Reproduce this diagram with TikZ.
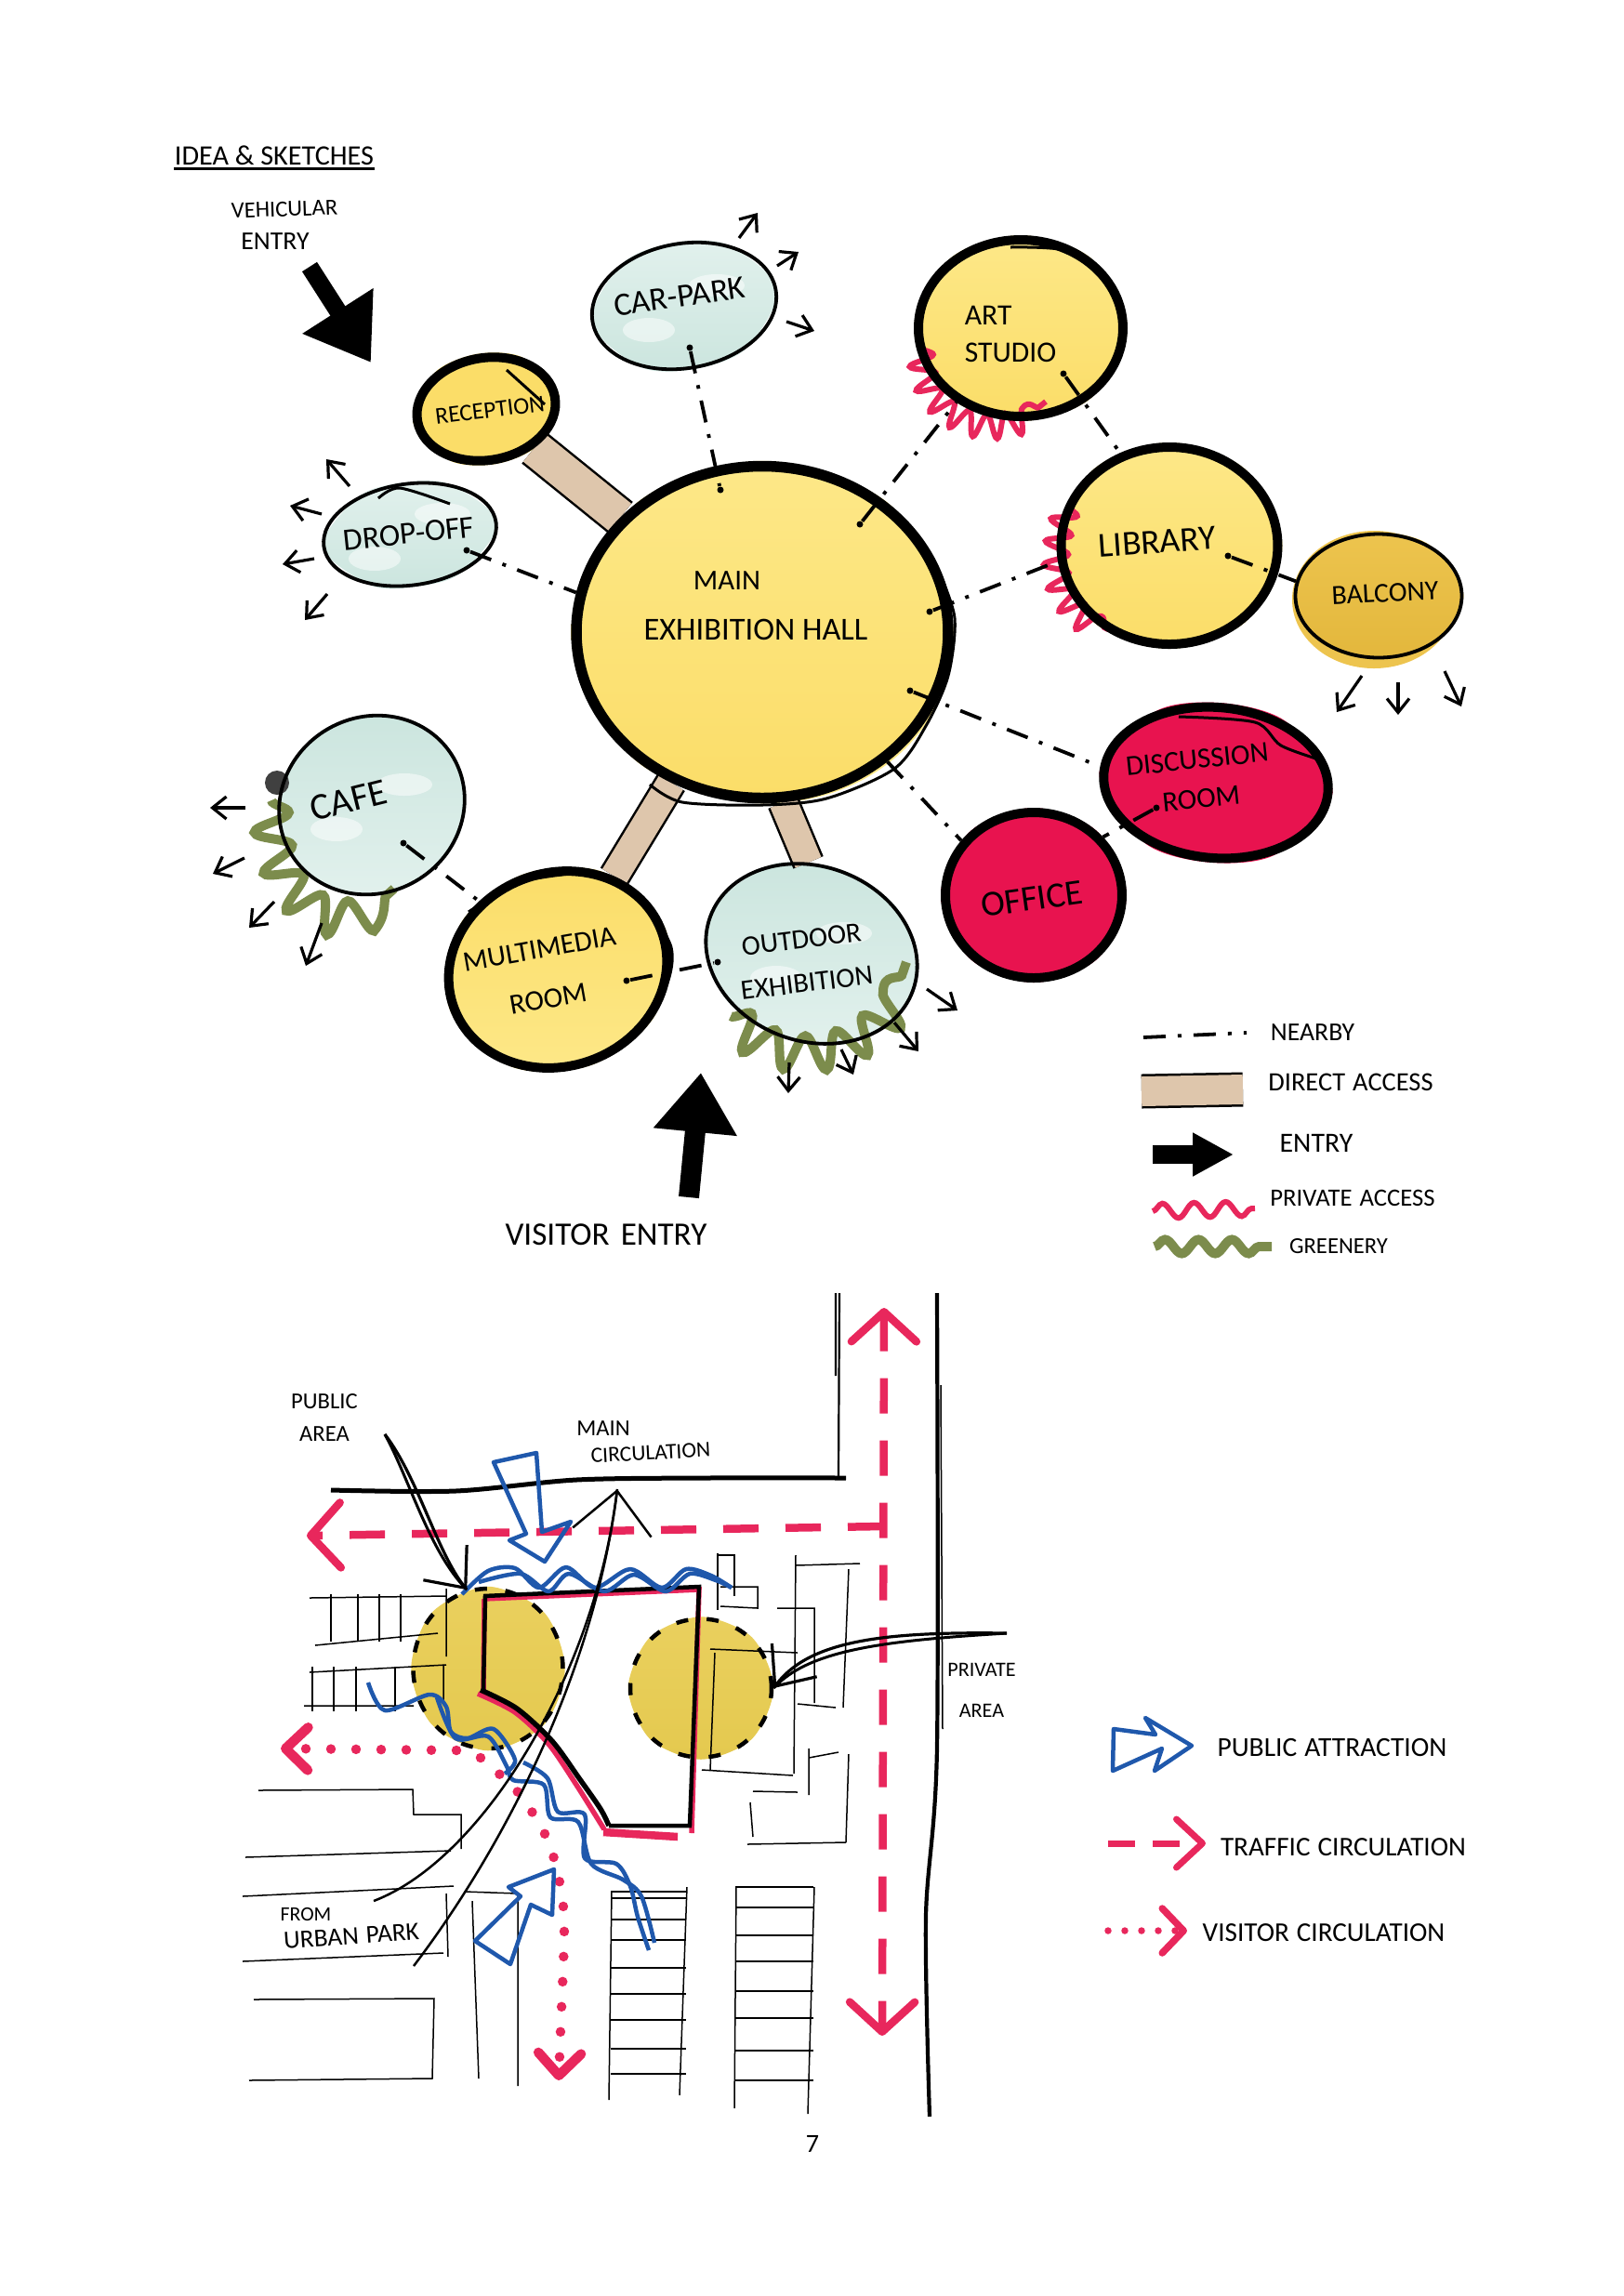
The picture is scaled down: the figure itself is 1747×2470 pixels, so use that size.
\documentclass[tikz,border=0pt]{standalone}
\usepackage{fontspec}
\setmainfont{Carlito}
\usetikzlibrary{arrows.meta,positioning,backgrounds,shapes.geometric,decorations.pathmorphing}
\definecolor{hallCol}{HTML}{FDE888}
\definecolor{hallDeep}{HTML}{FBDD68}
\definecolor{paleCol}{HTML}{E2F1ED}
\definecolor{paleDeep}{HTML}{CBE5DE}
\definecolor{goldCol}{HTML}{EDC44E}
\definecolor{goldDeep}{HTML}{E3B73C}
\definecolor{crimCol}{HTML}{E8134F}
\definecolor{accessCol}{HTML}{DEC6AC}
\definecolor{pinkEdge}{HTML}{E8275C}
\definecolor{oliveEdge}{HTML}{7C8C4C}
\definecolor{blueEdge}{HTML}{1F58AC}
\definecolor{blobCol}{HTML}{EAD05E}
\definecolor{blobDeep}{HTML}{E4C94F}
\tikzset{
  ring/.style n args={2}{ellipse, draw, line width=1mm, inner sep=0pt,
        minimum width=#1mm, minimum height=#2mm},
  penring/.style n args={2}{ellipse, draw, line width=.38mm, inner sep=0pt,
        minimum width=#1mm, minimum height=#2mm},
  blob/.style n args={2}{ellipse, draw, line width=.45mm, inner sep=0pt,
        dash pattern=on 1.3mm off 2mm, minimum width=#1mm, minimum height=#2mm},
  hand/.style n args={2}{font=\fontsize{#1}{#2}\selectfont, inner sep=0pt, align=center},
  spot/.style={circle, fill=black, inner sep=0pt, minimum size=.7mm},
  nearby/.style={line width=.38mm, dash pattern=on 2.4mm off 1.3mm on .4mm off 1.3mm},
  direct/.style={draw=black, line width=.25mm, double=accessCol, double distance=#1mm},
  outarrow/.style={line width=.32mm, -{Straight Barb[length=1.5mm,width=2.4mm]}},
  entryarrow/.style n args={3}{line width=#1mm, -{Triangle[length=#2mm,width=#3mm]}},
  sketch/.style={line width=.3mm},
  fineline/.style={line width=.15mm},
  privwig/.style={draw=pinkEdge, line width=.6mm, decorate,
        decoration={snake, amplitude=1.3mm, segment length=2.3mm}},
  greenwig/.style={draw=oliveEdge, line width=1mm, decorate,
        decoration={snake, amplitude=1.9mm, segment length=4mm}},
  traffic/.style={draw=pinkEdge, line width=.85mm, dash pattern=on 3.8mm off 2.9mm,
        >={Straight Barb[length=3.2mm,width=7mm,round]}},
  visitor/.style={draw=pinkEdge, line width=1.05mm, line cap=round, dash pattern=on 0pt off 2.7mm,
        >={Straight Barb[length=2.4mm,width=4.6mm,round]}},
  leader/.style={line width=.32mm, -{Straight Barb[length=3.5mm,width=6mm]}},
  bluepen/.style={draw=blueEdge, line width=.45mm, line join=round},
  plotline/.style={draw=pinkEdge, line width=.55mm},
  wallline/.style={line width=.45mm},
}
\begin{document}
\begin{tikzpicture}[x=0.1mm,y=-0.1mm]
  \useasboundingbox (0,0) rectangle (1747,2470);
  % --- title ---
  \node[hand={8.6}{11}] (title) at (295,167) {IDEA \& SKETCHES};
  \draw[line width=.25mm] ([yshift=-.45mm]title.base west) -- ([yshift=-.45mm]title.base east);
  % --- rooms ---
  \node[ring={40}{35.7}, line width=1.15mm] (hall) at (820,680) {};
  \node[ring={15}{11}, rotate=10] (reception) at (523,440) {};
  \node[penring={20}{13.4}, rotate=10] (carpark) at (736,329) {};
  \node[penring={18.7}{10.9}, rotate=8] (dropoff) at (441,575) {};
  \node[ring={22}{19}] (art) at (1098,353) {};
  \node[ring={23.3}{21.2}] (library) at (1258,587) {};
  \node[penring={17.9}{13.3}] (balcony) at (1483,641) {};
  \node[ring={24.2}{16.2}, rotate=-5] (discussion) at (1308,842) {};
  \node[ring={19}{17.8}] (office) at (1112,963) {};
  \node[penring={23.2}{18.8}, rotate=-20] (outdoor) at (873,1026) {};
  \node[ring={23.8}{20.8}, rotate=20] (multimedia) at (600,1043) {};
  \node[penring={20.3}{18.9}, rotate=30] (cafe) at (400,866) {};
  % room labels
  \node[hand={7.3}{9}, rotate=7] (recLbl) at (527,441) {RECEPTION};
  \node[hand={10}{12}, rotate=8] (carLbl) at (731,319) {CAR-PARK};
  \node[hand={9.6}{12}, rotate=6] (dropLbl) at (440,574) {DROP-OFF};
  \node[hand={8.8}{10}] (hallTop) at (782,625) {MAIN};
  \node[hand={9.8}{12}] (hallBot) at (813,677) {EXHIBITION HALL};
  \node[hand={9}{11.4}, align=left] (artLbl) at (1087,359) {ART\\STUDIO};
  \node[hand={10.7}{12}, rotate=4] (libLbl) at (1245,583) {LIBRARY};
  \node[hand={8.5}{10}, rotate=3] (balLbl) at (1490,638) {BALCONY};
  \node[hand={8.8}{12}, rotate=6] (disLbl) at (1290,838) {DISCUSSION\\ROOM};
  \node[hand={11}{12}, rotate=8] (offLbl) at (1110,967) {OFFICE};
  \node[hand={8.6}{13.4}, rotate=7] (outLbl) at (865,1034) {OUTDOOR\\EXHIBITION};
  \node[hand={8.8}{15.5}, rotate=10] (mulLbl) at (585,1048) {MULTIMEDIA\\ROOM};
  \node[hand={11.5}{13}, rotate=14] (cafLbl) at (375,861) {CAFE};
  % entry labels
  \node[hand={7}{9}, rotate=2] (vehTop) at (306,225) {VEHICULAR};
  \node[hand={7.9}{9}] (vehBot) at (296,260) {ENTRY};
  \node[hand={10}{12}] (visLbl) at (652,1328) {VISITOR\hspace{1.2mm}ENTRY};
  \coordinate (vehTail) at (333,287);
  \coordinate (vehTip) at (399,390);
  \coordinate (visTail) at (741,1288);
  \coordinate (visTip) at (754,1154);
  \draw[entryarrow={1.9}{6.6}{8.6}] (vehTail) -- (vehTip);
  \draw[entryarrow={2.2}{6.4}{8.6}] (visTail) -- (visTip);
  % dots the nearby lines run from
  \node[spot] (carSpot) at (742,374) {};
  \node[spot] (hallSpotN) at (775,527) {};
  \node[spot] (hallSpotNE) at (925,564) {};
  \node[spot] (hallSpotE) at (1000,658) {};
  \node[spot] (hallSpotSE) at (979,743) {};
  \node[spot] (dropSpot) at (502,592) {};
  \node[spot] (artSpot) at (1144,402) {};
  \node[spot] (libSpot) at (1321,598) {};
  \node[spot] (disSpot) at (1244,869) {};
  \node[spot] (cafSpot) at (434,907) {};
  \node[spot] (mulSpot) at (674,1055) {};
  \node[spot] (outSpot) at (772,1035) {};
  % nearby edges
  \draw[nearby] (carSpot) -- (hallSpotN);
  \draw[nearby] (dropSpot) -- (hall.168);
  \draw[nearby] (hallSpotNE) -- (art.-131);
  \draw[nearby] (artSpot) -- (library.118);
  \draw[nearby] (hallSpotE) -- (library.188);
  \draw[nearby] (libSpot) -- (balcony.170);
  \draw[nearby] (hallSpotSE) -- (discussion.177);
  \draw[nearby] (hall.-46) -- (office.143);
  \draw[nearby] (disSpot) -- (office.40);
  \draw[nearby] (cafSpot) -- (multimedia.119);
  \draw[nearby] (mulSpot) -- (outSpot);
  % spill arrows
  \foreach \r/\a/\b/\c/\d in {carpark/59/-73/20/-27, carpark/100/-43/23/-15, carpark/110/17/30/10,
      dropoff/-65/-52/-25/-29, dropoff/-95/-22/-34/-9, dropoff/-103/26/-34/6, dropoff/-89/64/-24/28,
      balcony/-18/86/-27/39, balcony/21/93/0/35, balcony/71/81/18/38,
      cafe/-136/3/-38/0, cafe/-137/57/-34/17, cafe/-105/104/-27/28, cafe/-54/127/-17/46,
      outdoor/-24/117/-1/33, outdoor/32/103/13/27, outdoor/89/74/26/31, outdoor/124/38/33/23}
    \draw[outarrow] (\r) ++(\a,\b) -- ++(\c,\d);
  % second pen strokes
  \draw[sketch] plot[smooth] coordinates {(1010,615) (1027,665) (1020,727) (996,781) (962,827) (889,859) (820,866) (734,863) (699,844)};
  \draw[sketch] plot[smooth] coordinates {(1087,266) (1149,270) (1194,302)};
  \draw[sketch] plot[smooth] coordinates {(989,341) (1006,303) (1040,275)};
  \draw[sketch] plot[smooth] coordinates {(694,969) (722,1019) (717,1060) (688,1106)};
  \draw[sketch] plot[smooth] coordinates {(504,981) (556,950) (613,940)};
  \draw[sketch] (545,398) -- (586,435);
  \draw[sketch] plot[smooth] coordinates {(407,536) (430,525) (484,542)};
  \draw[sketch] plot[smooth] coordinates {(1268,771) (1350,777) (1378,802) (1422,818)};
  % --- legend, top ---
  \node[hand={7.9}{9}] (lgNear) at (1412,1111) {NEARBY};
  \node[hand={8.1}{9}] (lgDirect) at (1453,1164) {DIRECT\hspace{.8mm}ACCESS};
  \node[hand={8.5}{9}] (lgEntry) at (1416,1230) {ENTRY};
  \node[hand={7.6}{9}] (lgPriv) at (1455,1289) {PRIVATE\hspace{.8mm}ACCESS};
  \node[hand={7}{9}] (lgGreen) at (1440,1341) {GREENERY};
  \draw[nearby] (lgNear) ++(-182,5) -- ++(111,-5);
  \draw[direct=3.2] (lgDirect) ++(-225,10) -- ++(109,-2);
  \draw[entryarrow={2}{4.4}{4.4}] (lgEntry) ++(-176,12) -- ++(87,0);
  \draw[privwig, decoration={amplitude=.8mm, segment length=3.4mm}] (lgPriv) ++(-215,14) -- ++(110,-3);
  \draw[greenwig, decoration={amplitude=.75mm, segment length=3.6mm}] (lgGreen) ++(-198,0) -- ++(126,0);
  % --- site plan ---
  \node[blob={16.1}{17.2}] (pubArea) at (525,1795) {};
  \node[blob={15.2}{14.9}] (privArea) at (754,1816) {};
  % blocks round the site
  \draw[fineline] (333,1719) -- (480,1717) (339,1770) -- (471,1757) (480,1709) -- (480,1782);
  \foreach \x in {356,385,408,431} \draw[fineline] (\x,1715) -- (\x,1766);
  \draw[fineline] (333,1799) -- (480,1791) (327,1835) -- (445,1835) (477,1791) -- (477,1832);
  \foreach \x in {336,359,383,425} \draw[fineline] (\x,1793) -- (\x,1841);
  \draw[fineline] (772,1671) -- (772,1732) (772,1673) -- (790,1673) -- (790,1717);
  \draw[fineline] (775,1707) -- (815,1707) -- (815,1730) -- (775,1728);
  \draw[fineline] (856,1684) -- (925,1682) (856,1673) -- (854,1908) (913,1688) -- (907,1837);
  \draw[fineline] (836,1730) -- (876,1730) -- (876,1832) (764,1774) -- (858,1778);
  \draw[fineline] (769,1778) -- (764,1904) (755,1904) -- (853,1910) (858,1833) -- (899,1837);
  \draw[fineline] (870,1891) -- (902,1885) (870,1881) -- (870,1931) (913,1887) -- (910,1982);
  \draw[fineline] (810,1927) -- (858,1928) (807,1939) -- (810,1976) (804,1984) -- (910,1982);
  \draw[fineline] (278,1926) -- (444,1925) -- (445,1952) -- (496,1952) -- (496,1989);
  \draw[fineline] (264,1998) -- (485,1991) (261,2040) -- (488,2029) (480,2037) -- (482,2105);
  \draw[fineline] (261,2110) -- (477,2101) (273,2151) -- (467,2150) -- (465,2236) -- (268,2238);
  \draw[fineline] (500,2035) -- (557,2037) (508,2045) -- (515,2236) (557,2039) -- (557,2244);
  \draw[fineline] (658,2035) -- (655,2259) (739,2030) -- (731,2254);
  \foreach \y in {2035,2042,2065,2087,2117,2145,2173,2204,2231} \draw[fineline] (657,\y) -- (738,\y);
  \draw[fineline] (792,2030) -- (790,2268) (876,2030) -- (869,2274);
  \foreach \y in {2030,2052,2082,2110,2142,2171,2206,2238} \draw[fineline] (791,\y) -- (875,\y);
  % road edges
  \draw[line width=.42mm] plot[smooth] coordinates {(1008,1391) (1008,1880) (996,2062) (1000,2277)};
  \draw[fineline] (1012,1490) -- (1014,1860);
  \draw[fineline, line width=.22mm] (903,1391) -- (902,1590) (899,1391) -- (899,1480);
  \draw[line width=.5mm] plot[smooth] coordinates {(356,1603) (490,1604) (620,1592) (760,1590) (910,1590)};
  % traffic circulation
  \coordinate (roadN) at (951,1407);
  \coordinate (roadS) at (949,2190);
  \coordinate (roadJ) at (950,1642);
  \coordinate (roadW) at (330,1652);
  \draw[traffic, <->] (roadN) -- (roadS);
  \draw[traffic, ->] (roadJ) -- (roadW);
  % building
  \draw[plotline] (520,1720) -- (752,1710) -- (744,1972) (521,1720) -- (520,1822);
  \draw[plotline] plot[smooth] coordinates {(514,1822) (554,1842) (590,1876) (620,1920) (650,1968)};
  \draw[line width=.85mm, draw=pinkEdge] (649,1971) -- (729,1976);
  \draw[wallline] (520,1717) -- (752,1707) -- (742,1964) -- (655,1964);
  \draw[wallline] (522,1717) -- (520,1818);
  \draw[wallline, line width=.55mm] plot[smooth] coordinates {(517,1818) (556,1838) (594,1873) (623,1913) (646,1946) (655,1964)};
  % visitor circulation
  \coordinate (vJoin) at (491,1883);
  \coordinate (vBend) at (517,1891);
  \coordinate (vLeft) at (302,1881);
  \coordinate (vDown) at (601,2238);
  \draw[visitor, ->] (vJoin) -- (vLeft);
  \draw[visitor, ->] plot[smooth] coordinates {(vBend) (558,1929) (589,1979) (603,2030) (607,2077) (603,2185) (vDown)};
  % public attraction
  \draw[bluepen] plot[smooth] coordinates {(497,1715) (525,1690) (554,1687) (580,1708) (609,1686) (640,1708) (678,1688) (712,1708) (738,1688) (765,1695) (787,1708)};
  \draw[bluepen] plot[smooth] coordinates {(515,1702) (560,1693) (590,1712) (612,1693) (650,1712) (682,1694) (716,1712) (742,1693) (770,1700) (787,1708)};
  \draw[bluepen] plot[smooth] coordinates {(396,1810) (414,1840) (462,1823) (480,1836) (485,1863) (503,1870) (531,1860) (554,1893) (543,1908)};
  \draw[bluepen] plot[smooth] coordinates {(563,1896) (589,1913) (600,1949) (629,1952) (629,1999) (663,2005) (678,2029) (686,2062) (698,2098)};
  \draw[bluepen] plot[smooth] coordinates {(470,1826) (490,1870) (525,1868) (545,1900) (552,1915) (585,1920) (592,1955) (622,1960) (636,2005) (670,2022) (690,2040) (704,2090)};
  \draw[bluepen] (531,1573) -- (577,1563) -- (583,1648) -- (614,1637) -- (586,1680) -- (548,1657) -- (566,1650) -- cycle;
  \draw[bluepen] (596,2011) -- (547,2030) -- (560,2040) -- (511,2088) -- (549,2113) -- (571,2049) -- (594,2060) -- cycle;
  % site labels and leaders
  \node[hand={7}{10}] (pubLbl) at (349,1525) {PUBLIC\\AREA};
  \node[hand={7}{9}] (mainTop) at (649,1537) {MAIN};
  \node[hand={6.7}{9}, rotate=3] (mainBot) at (700,1563) {CIRCULATION};
  \node[hand={6.3}{12.5}] (privLbl) at (1056,1818) {PRIVATE\\AREA};
  \node[hand={6.2}{8}] (fromTop) at (329,2059) {FROM};
  \node[hand={7.8}{9}, rotate=4] (fromBot) at (378,2083) {URBAN\hspace{.8mm}PARK};
  \coordinate (pubTail) at (414,1543);
  \coordinate (privTail) at (1083,1757);
  \coordinate (parkTailA) at (402,2045);
  \coordinate (parkTailB) at (445,2115);
  \coordinate (mainTip) at (664,1602);
  \draw[leader] (pubTail) .. controls (450,1590) and (470,1670) .. (pubArea.105);
  \draw[sketch] (pubTail) .. controls (440,1590) and (462,1670) .. (pubArea.105);
  \draw[leader] (privTail) .. controls (950,1755) and (870,1765) .. (privArea.east);
  \draw[sketch] (privTail) .. controls (950,1765) and (870,1775) .. (privArea.east);
  \draw[leader, line width=.25mm, -{Straight Barb[length=4.5mm,width=8.5mm]}] (parkTailA) .. controls (520,2000) and (640,1800) .. (mainTip);
  \draw[fineline, line width=.25mm] (parkTailB) .. controls (540,1990) and (640,1800) .. (mainTip);
  % --- legend, bottom ---
  \node[hand={8.4}{9}] (lgPublic) at (1433,1880) {PUBLIC\hspace{.8mm}ATTRACTION};
  \node[hand={8.3}{9}] (lgTraffic) at (1445,1987) {TRAFFIC\hspace{.8mm}CIRCULATION};
  \node[hand={8.3}{9}] (lgVisitor) at (1424,2079) {VISITOR\hspace{.8mm}CIRCULATION};
  \draw[bluepen] (1198,1860) -- (1243,1866) -- (1232,1848) -- (1282,1878) -- (1242,1905) -- (1250,1881) -- (1197,1905) -- cycle;
  \draw[traffic, line width=.7mm, dash pattern=on 2.9mm off 1.9mm, -{Straight Barb[length=2.8mm,width=5.2mm,round]}] (lgTraffic) ++(-253,-4) -- ++(105,0);
  \draw[visitor, line width=.75mm, dash pattern=on 0pt off 1.8mm, -{Straight Barb[length=2.3mm,width=4.8mm,round]}] (lgVisitor) ++(-232,-2) -- ++(85,0);
  \node[hand={8}{9}] (pageNo) at (874,2306) {7};
  % --- washes and edges under the rings ---
  \begin{scope}[on background layer]
    \fill[hallCol] (826,686) ellipse (199 and 178);
    \fill[goldCol] (1478,645) ellipse (88 and 74);
    \foreach \r/\c/\d in {hall/hallCol/hallDeep, reception/hallDeep/hallDeep, art/hallCol/hallDeep,
        library/hallCol/hallDeep, multimedia/hallDeep/hallCol, carpark/paleCol/paleDeep,
        dropoff/paleCol/paleDeep, cafe/paleDeep/paleCol, outdoor/paleDeep/paleCol,
        balcony/goldCol/goldDeep, discussion/crimCol/crimCol, office/crimCol/crimCol,
        pubArea/blobCol/blobDeep, privArea/blobCol/blobDeep}
      \path[top color=\c, bottom color=\d] plot[smooth cycle] coordinates
        {(\r.0) (\r.45) (\r.90) (\r.135) (\r.180) (\r.225) (\r.270) (\r.315)};
    \foreach \r in {carpark,dropoff,cafe,outdoor} {
      \fill[white, opacity=.5] (\r) ++(-38,26) ellipse (28 and 13);
      \fill[white, opacity=.5] (\r) ++(35,-22) ellipse (30 and 12);
    }
    % direct access
    \draw[direct=3.8] (reception) -- (hall);
    \draw[direct=3.0] (multimedia) -- (hall);
    \draw[direct=3.0] (hall.-83) -- (outdoor.112);
    % private access and greenery
    \draw[privwig] (991,374) .. controls (990,450) and (1075,475) .. (1125,432);
    \draw[privwig] (1149,544) .. controls (1125,610) and (1140,650) .. (1192,677);
    \draw[greenwig] (292,861) .. controls (290,960) and (360,1010) .. (424,956);
    \draw[greenwig] (786,1093) .. controls (830,1145) and (940,1140) .. (975,1035);
    \fill[black!75] (298,842) circle (13);
  \end{scope}
\end{tikzpicture}
\end{document}
